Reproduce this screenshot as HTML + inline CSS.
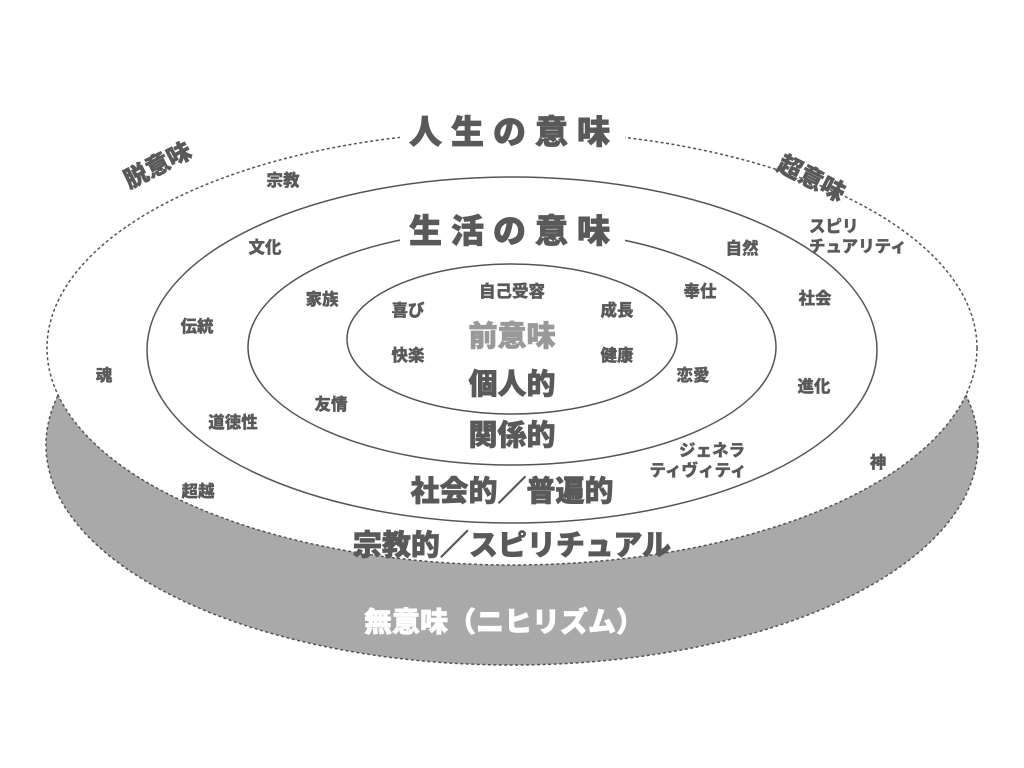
<!DOCTYPE html>
<html><head><meta charset="utf-8"><style>
html,body{margin:0;padding:0;background:#fff;width:1024px;height:768px;overflow:hidden}
svg text{font-family:"Liberation Sans","Noto Sans CJK JP",sans-serif;font-weight:900;fill:#595959;stroke:#595959;stroke-width:0.3;text-anchor:middle;dominant-baseline:central}
.s{font-size:16.5px}
.b{font-size:29px;stroke-width:0.7}
</style></head><body>
<svg width="1024" height="768" viewBox="0 0 1024 768">
<ellipse cx="512" cy="445" rx="466" ry="220" fill="#a8a9a8" stroke="#555" stroke-width="1.5" stroke-dasharray="3,2.5"/>
<ellipse cx="512" cy="348" rx="465" ry="217" fill="#fff" stroke="#555" stroke-width="1.5" stroke-dasharray="3,2.5"/>
<ellipse cx="512" cy="350" rx="365" ry="173" fill="none" stroke="#555" stroke-width="1.5"/>
<ellipse cx="512" cy="347" rx="264" ry="118" fill="none" stroke="#555" stroke-width="1.5"/>
<ellipse cx="512" cy="339" rx="165" ry="75" fill="none" stroke="#555" stroke-width="1.5"/>
<rect x="400" y="112" width="225" height="40" fill="#fff"/>
<rect x="400" y="211" width="225" height="40" fill="#fff"/>
<text x="514" y="132" style="font-size:33px;letter-spacing:9px;stroke-width:0.8">人生の意味</text>
<text x="514" y="231" style="font-size:33px;letter-spacing:9px;stroke-width:0.8">生活の意味</text>
<text transform="translate(158,166) rotate(-27)" style="font-size:24px;stroke-width:0.5">脱意味</text>
<text transform="translate(811,179) rotate(27)" style="font-size:24px;stroke-width:0.5">超意味</text>
<text class="s" x="283" y="181">宗教</text>
<text class="s" x="265" y="248">文化</text>
<text class="s" x="322" y="300">家族</text>
<text class="s" x="408" y="311">喜び</text>
<text class="s" x="512" y="292">自己受容</text>
<text class="s" x="617" y="311">成長</text>
<text class="b" x="512" y="337" style="fill:#999;stroke:#999">前意味</text>
<text class="s" x="408" y="356">快楽</text>
<text class="s" x="617" y="356">健康</text>
<text class="b" x="512" y="385">個人的</text>
<text class="b" x="512" y="436">関係的</text>
<text class="b" x="512" y="492">社会的／普遍的</text>
<text class="b" x="512" y="546">宗教的／スピリチュアル</text>
<text class="b" x="504" y="622" style="fill:#fff;stroke:#fff;font-size:28px">無意味（ニヒリズム）</text>
<text class="s" x="197" y="327">伝統</text>
<text class="s" x="233" y="423">道徳性</text>
<text class="s" x="331" y="405">友情</text>
<text class="s" x="104" y="376">魂</text>
<text class="s" x="198" y="492">超越</text>
<text class="s" x="742" y="249">自然</text>
<text class="s" x="700" y="292">奉仕</text>
<text class="s" x="693" y="376">恋愛</text>
<text class="s" x="815" y="299">社会</text>
<text class="s" x="814" y="387">進化</text>
<text class="s" x="878" y="463">神</text>
<text class="s" x="809" y="227" style="text-anchor:start">スピリ</text>
<text class="s" x="809" y="247" style="text-anchor:start">チュアリティ</text>
<text class="s" x="712" y="451">ジェネラ</text>
<text class="s" x="698" y="471">ティヴィティ</text>
</svg>
</body></html>
